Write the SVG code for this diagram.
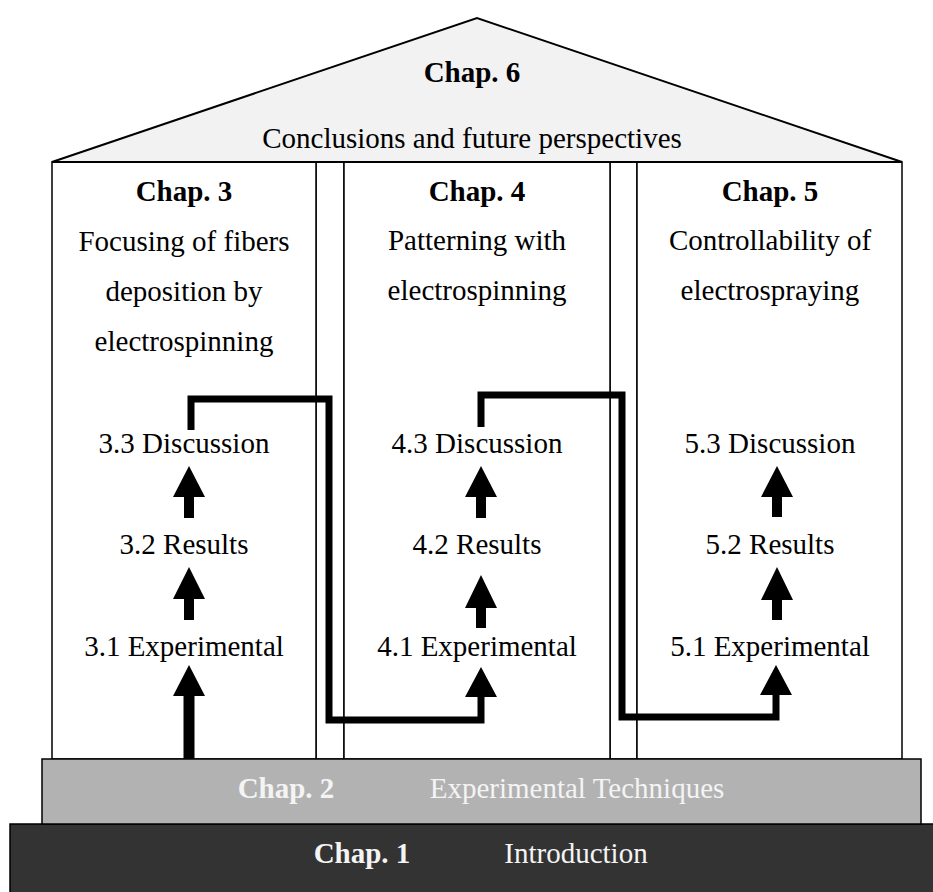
<svg xmlns="http://www.w3.org/2000/svg" width="933" height="892" viewBox="0 0 933 892">
<style>
text{font-family:"Liberation Serif","Times New Roman",serif;font-size:29px;text-anchor:middle;fill:#000}
.b{font-weight:bold}
.w{fill:#f4f4f4}
.pillar{fill:#fff;stroke:#000;stroke-width:1.5}
.line{stroke:#000;stroke-width:1.5;fill:none}
.conn{fill:none;stroke:#000;stroke-width:7;stroke-linejoin:miter}
.arr{fill:#000}
</style>
<rect width="933" height="892" fill="#fff"/>
<g id="chap1">
<rect x="10" y="824" width="930" height="75" fill="#333333" stroke="#000" stroke-width="1.5"/>
<text x="362" y="863" class="b w">Chap. 1</text>
<text x="576" y="863" class="w">Introduction</text>
</g>
<g id="gaps">
<rect x="316" y="162" width="28" height="597" class="pillar"/>
<rect x="610" y="162" width="27" height="597" class="pillar"/>
</g>
<g id="chap3">
<rect x="52" y="162" width="264" height="597" class="pillar"/>
<text x="184" y="201" class="b">Chap. 3</text>
<text x="184" y="251">Focusing of fibers</text>
<text x="184" y="301">deposition by</text>
<text x="184" y="351">electrospinning</text>
<text x="184" y="453">3.3 Discussion</text>
<text x="184" y="554">3.2 Results</text>
<text x="184" y="656">3.1 Experimental</text>
</g>
<g id="chap4">
<rect x="344" y="162" width="266" height="597" class="pillar"/>
<text x="477" y="201" class="b">Chap. 4</text>
<text x="477" y="250">Patterning with</text>
<text x="477" y="300">electrospinning</text>
<text x="477" y="453">4.3 Discussion</text>
<text x="477" y="554">4.2 Results</text>
<text x="477" y="656">4.1 Experimental</text>
</g>
<g id="chap5">
<rect x="637" y="162" width="265" height="597" class="pillar"/>
<text x="770" y="201" class="b">Chap. 5</text>
<text x="770" y="250">Controllability of</text>
<text x="770" y="300">electrospraying</text>
<text x="770" y="453">5.3 Discussion</text>
<text x="770" y="554">5.2 Results</text>
<text x="770" y="656">5.1 Experimental</text>
</g>
<g id="chap6">
<polygon points="52,162 477,18 902,162" fill="#f2f2f2" stroke="#000" stroke-width="2" stroke-linejoin="miter"/>
<text x="472" y="82" class="b">Chap. 6</text>
<text x="472" y="148">Conclusions and future perspectives</text>
</g>
<g id="chap2">
<rect x="42" y="759" width="879" height="65" fill="#b2b2b2" stroke="#000" stroke-width="1.5"/>
<text x="286" y="798" class="b w">Chap. 2</text>
<text x="577" y="798" class="w">Experimental Techniques</text>
</g>
<g id="connectors">
<path class="conn" d="M191,430 V399 H329 V720 H481 V695"/>
<path class="conn" d="M481,427 V395 H622 V717 H776 V693"/>
<polygon class="arr" points="481,667 497,697 465,697"/>
<polygon class="arr" points="776,665 792,695 760,695"/>
<polygon class="arr" points="189,665 205,696 194.5,696 194.5,759 183.5,759 183.5,696 173,696"/>
<polygon class="arr" points="189,466 205,497 194,497 194,518 184,518 184,497 173,497"/>
<polygon class="arr" points="189,567 205,599 194,599 194,620 184,620 184,599 173,599"/>
<polygon class="arr" points="481,466 497,497 486,497 486,518 476,518 476,497 465,497"/>
<polygon class="arr" points="481,575 497,608 486,608 486,628 476,628 476,608 465,608"/>
<polygon class="arr" points="777,466 793,497 782,497 782,517 772,517 772,497 761,497"/>
<polygon class="arr" points="777,567 793,600 782,600 782,620 772,620 772,600 761,600"/>
</g>
</svg>
